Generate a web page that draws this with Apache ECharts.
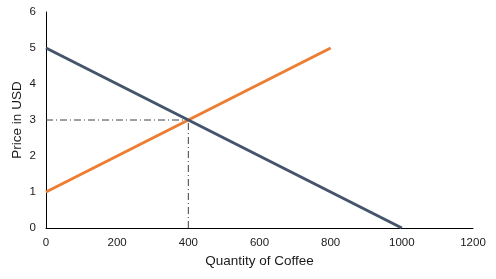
<!DOCTYPE html>
<html><head><meta charset="utf-8">
<script src="https://cdn.jsdelivr.net/npm/echarts@6/dist/echarts.min.js"></script>
<style>html,body{margin:0;padding:0;background:#fff}#c{width:496px;height:279px}</style>
</head><body><div id="c"></div>
<script>
var xTicks = [0, 200, 400, 600, 800, 1000, 1200];
var yTicks = [0, 1, 2, 3, 4, 5, 6];
var demandX = [0, 1000];
var demandY = [5, 0];
var supplyX = [0, 800];
var supplyY = [1, 5];
var eqX = 400;
var eqY = 3;
var xName = 'Quantity of Coffee';
var yName = 'Price in USD';

function pairs(xs, ys){ return xs.map(function(x,i){return [x, ys[i]];}); }

var chart = echarts.init(document.getElementById('c'));
var font = 'Liberation Sans, Arial, sans-serif';
chart.setOption({
  animation: false,
  grid: {left: 46, right: 23, top: 12, bottom: 51, outerBoundsMode: 'none', containLabel: false},
  xAxis: {
    type: 'value', min: xTicks[0], max: xTicks[xTicks.length-1], interval: 200,
    name: xName, nameLocation: 'middle', nameGap: 26.5, nameMoveOverlap: false,
    nameTextStyle: {fontFamily: font, fontSize: 13.5, color: '#1a1a1a'},
    axisLine: {show: true, lineStyle: {color: '#000', width: 1}},
    axisTick: {show: false},
    splitLine: {show: false},
    axisLabel: {fontFamily: font, fontSize: 11.5, color: '#1a1a1a', margin: 9,
      formatter: function(v){ return String(v); }}
  },
  yAxis: {
    type: 'value', min: yTicks[0], max: yTicks[yTicks.length-1], interval: 1,
    name: yName, nameLocation: 'middle', nameGap: 22, nameMoveOverlap: false,
    nameTextStyle: {fontFamily: font, fontSize: 13.5, color: '#1a1a1a'},
    axisLine: {show: true, lineStyle: {color: '#000', width: 1}},
    axisTick: {show: false},
    splitLine: {show: false},
    axisLabel: {fontFamily: font, fontSize: 11.5, color: '#1a1a1a', margin: 10}
  },
  series: [
    {type: 'line', data: pairs([0, eqX], [eqY, eqY]), symbol: 'none', z: 1,
     lineStyle: {color: '#404040', width: 1, type: [7, 3, 1, 3]}},
    {type: 'line', data: pairs([eqX, eqX], [0, eqY]), symbol: 'none', z: 1,
     lineStyle: {color: '#404040', width: 1, type: [7, 3, 1, 3]}},
    {type: 'line', data: pairs(supplyX, supplyY), symbol: 'none', z: 2,
     lineStyle: {color: '#ED7D31', width: 3}},
    {type: 'line', data: pairs(demandX, demandY), symbol: 'none', z: 3,
     lineStyle: {color: '#44546A', width: 3}}
  ]
});
</script></body></html>
